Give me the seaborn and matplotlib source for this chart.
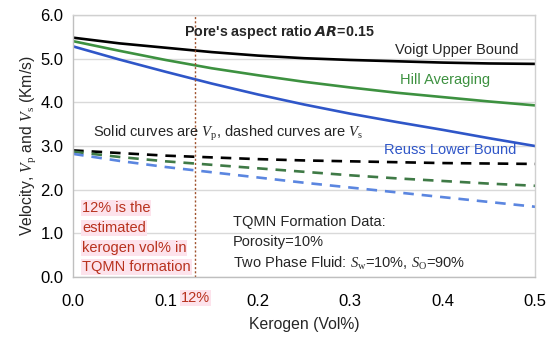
import numpy as np
import pandas as pd
import matplotlib
matplotlib.use("Agg")
import matplotlib.pyplot as plt
import seaborn as sns

# Kerogen volume fraction
kerogen = [0.0, 0.05, 0.1, 0.15, 0.2, 0.25, 0.3, 0.35, 0.4, 0.45, 0.5]

# Vp (solid)
vp_voigt = [5.48, 5.35, 5.25, 5.15, 5.07, 5.01, 4.97, 4.94, 4.91, 4.89, 4.88]
vp_hill = [5.40, 5.18, 4.97, 4.78, 4.62, 4.47, 4.34, 4.22, 4.12, 4.02, 3.93]
vp_reuss = [5.28, 4.98, 4.70, 4.43, 4.18, 3.95, 3.74, 3.55, 3.37, 3.18, 3.00]

# Vs (dashed)
vs_voigt = [2.90, 2.84, 2.78, 2.74, 2.70, 2.67, 2.65, 2.63, 2.61, 2.60, 2.59]
vs_hill = [2.87, 2.75, 2.65, 2.57, 2.49, 2.41, 2.33, 2.26, 2.20, 2.14, 2.09]
vs_reuss = [2.82, 2.66, 2.52, 2.40, 2.28, 2.16, 2.05, 1.94, 1.83, 1.72, 1.61]

kerogen_mark = 0.132  # "12%" marker line as drawn

sns.set_theme(style="white")
plt.rcParams['font.family'] = ['Liberation Sans', 'DejaVu Sans']
plt.rcParams['mathtext.fontset'] = 'custom'
plt.rcParams['mathtext.rm'] = 'Liberation Serif'
plt.rcParams['mathtext.it'] = 'Liberation Serif:italic'

black = "#000000"
green = "#3d9140"
blue = "#2f56c8"
dgreen = "#3f7a46"
lblue = "#5b86e0"
red = "#b8321e"

fig = plt.figure(figsize=(5.5, 3.4), dpi=100)
ax = fig.add_axes([0.133, 0.185, 0.840, 0.771])

for ys, c in [(vp_voigt, black), (vp_hill, green), (vp_reuss, blue)]:
    sns.lineplot(x=kerogen, y=ys, color=c, lw=1.9, ax=ax)
for ys, c in [(vs_voigt, black), (vs_hill, dgreen), (vs_reuss, lblue)]:
    sns.lineplot(x=kerogen, y=ys, color=c, lw=1.9, ax=ax,
                 linestyle=(0, (4, 3)))

ax.axvline(kerogen_mark, color="#a0522d", lw=1.0, ls=(0, (1.5, 1.5)))

ax.set_xlim(0, 0.5)
ax.set_ylim(0, 6)
ax.set_xticks(np.arange(0, 0.51, 0.1))
ax.set_xticklabels(["0.0", "0.1", "0.2", "0.3", "0.4", "0.5"])
ax.set_yticks(np.arange(0, 6.1, 1.0))
ax.set_yticklabels([f"{v:.1f}" for v in np.arange(0, 6.1, 1.0)])
ax.yaxis.grid(True, color="#d9d9d9", lw=1.0)
for s in ax.spines.values():
    s.set_color("#d0d0d0")
    s.set_linewidth(1.0)
ax.spines["left"].set_color("#bfbfbf")
ax.spines["bottom"].set_color("#bfbfbf")
ax.tick_params(axis="both", which="major", labelsize=12, colors="#bfbfbf",
               length=4, width=1.0, direction="out", labelcolor="black",
               pad=8)
ax.tick_params(axis="y", pad=3)

ax.set_xlabel("Kerogen (Vol%)", fontsize=11.3, labelpad=6)
ax.set_ylabel(r"Velocity, $V_\mathrm{p}$ and $V_\mathrm{s}$ (Km/s)",
              fontsize=11.3, labelpad=2)

ax.text(0.12, 5.6, r"Pore's aspect ratio $\boldsymbol{AR}$=0.15", fontsize=10.3,
        fontweight="bold", va="center")
ax.text(0.482, 5.19, "Voigt Upper Bound", fontsize=10.5, ha="right", va="center")
ax.text(0.451, 4.51, "Hill Averaging", fontsize=10.5, ha="right", va="center",
        color=green)
ax.text(0.480, 2.91, "Reuss Lower Bound", fontsize=10.5, ha="right", va="center",
        color=blue)
ax.text(0.022, 3.29,
        r"Solid curves are $V_\mathrm{p}$, dashed curves are $V_\mathrm{s}$",
        fontsize=10.5, va="center")

ax.text(0.173, 1.26, "TQMN Formation Data:", fontsize=10.5, va="center")
ax.text(0.173, 0.80, "Porosity=10%", fontsize=10.5, va="center")
ax.text(0.173, 0.32,
        r"Two Phase Fluid: $S_\mathrm{w}$=10%, $S_\mathrm{O}$=90%",
        fontsize=10.5, va="center")

for txt, yv in [("12% is the", 1.58), ("estimated", 1.12),
                ("kerogen vol% in", 0.66), ("TQMN formation", 0.23)]:
    ax.text(0.0097, yv, txt, fontsize=10.5, va="center", color=red,
            bbox=dict(facecolor="#fde3ec", edgecolor="none", pad=0.6))

ax.text(kerogen_mark, -0.48, "12%", fontsize=10.5, ha="center", va="center",
        color=red, bbox=dict(facecolor="#fde3ec", edgecolor="none", pad=0.6))

fig.savefig("out.png", dpi=100)
